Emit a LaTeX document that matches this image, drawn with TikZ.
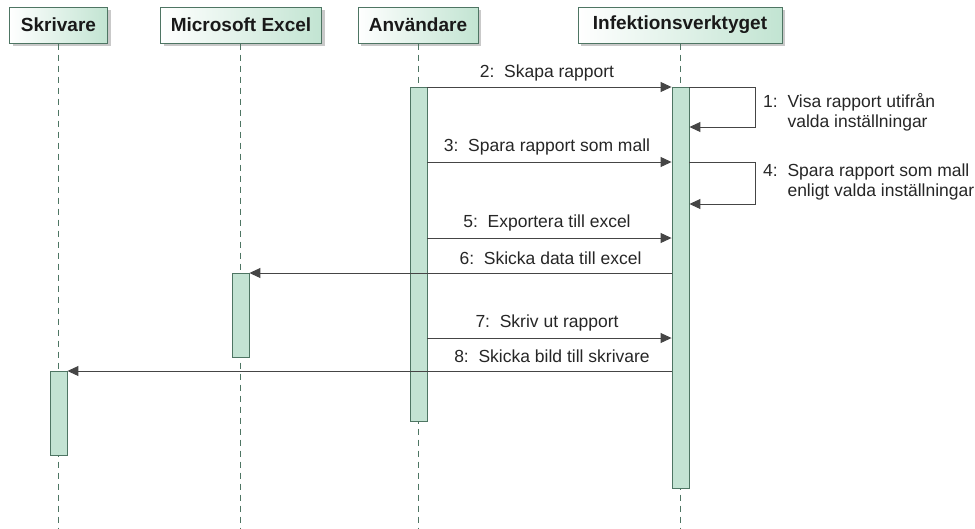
\documentclass[tikz,border=0pt]{standalone}
\usepackage{fontspec}
\setmainfont{Liberation Sans}
\usetikzlibrary{arrows.meta,shadows}
\definecolor{frame}{HTML}{4E7563}
\definecolor{barfill}{HTML}{C3E3D3}
\definecolor{hdrgreen}{HTML}{C2E4D2}
\definecolor{ink}{HTML}{454545}
\begin{document}
\begin{tikzpicture}[x=1pt,y=-1pt,
  head/.style={draw=frame, line width=1pt, left color=white, right color=hdrgreen,
    minimum height=36pt, inner sep=0pt, text=black!90,
    font=\bfseries\fontsize{19}{21}\selectfont,
    drop shadow={shadow xshift=3pt, shadow yshift=-3pt, fill=black!30, opacity=.7}},
  bar/.style={draw=frame, fill=barfill, line width=0.9pt, minimum width=17pt, inner sep=0pt},
  life/.style={draw=frame, line width=1pt, dash pattern=on 6pt off 5pt},
  msg/.style={draw=ink, line width=1pt, -{Triangle[length=11pt,width=10pt]}},
  lbl/.style={text=black!85, font=\fontsize{17.5}{20}\selectfont, inner sep=0pt}
]
\useasboundingbox (0,0) rectangle (975,528);

% participants
\node[head, minimum width=98pt]  (hS) at (58.5,25)  {Skrivare};
\node[head, minimum width=161pt] (hE) at (241,25)   {Microsoft Excel};
\node[head, minimum width=120pt] (hA) at (418,25)   {Användare};
\node[head, minimum width=204pt] (hI) at (680,25)   {Infektionsverktyget};

% lifelines
\coordinate (eS) at (58.5,528);
\coordinate (eE) at (240.5,528);
\coordinate (eA) at (418.5,528);
\coordinate (eI) at (680.5,528);
\draw[life] (hS.south -| eS) -- (eS);
\draw[life] (hE.south -| eE) -- (eE);
\draw[life] (hA.south -| eA) -- (eA);
\draw[life] (hI.south -| eI) -- (eI);

% activation bars
\node[bar, minimum height=334pt] (bA) at (418.5,254)   {};
\node[bar, minimum height=401pt] (bI) at (680.5,287.5) {};
\node[bar, minimum height=84pt]  (bE) at (240.5,315)   {};
\node[bar, minimum height=84pt]  (bS) at (58.5,413)    {};

% message rows
\coordinate (m2) at (0,87);
\coordinate (m1) at (0,127);
\coordinate (m3) at (0,162);
\coordinate (m4) at (0,204);
\coordinate (m5) at (0,238);
\coordinate (m6) at (0,273);
\coordinate (m7) at (0,338);
\coordinate (m8) at (0,371);

% messages
\draw[msg] (bA.east |- m2) -- (bI.west |- m2);
\draw[msg] (bI.east |- m2) -- ++(66,0) |- (bI.east |- m1);
\draw[msg] (bA.east |- m3) -- (bI.west |- m3);
\draw[msg] (bI.east |- m3) -- ++(66,0) |- (bI.east |- m4);
\draw[msg] (bA.east |- m5) -- (bI.west |- m5);
\draw[msg] (bI.west |- m6) -- (bE.east |- m6);
\draw[msg] (bA.east |- m7) -- (bI.west |- m7);
\draw[msg] (bI.west |- m8) -- (bS.east |- m8);

% labels
\node[lbl] (l2) at (547,73)  {2:\ \ Skapa rapport};
\node[lbl] (l3) at (547,147) {3:\ \ Spara rapport som mall};
\node[lbl] (l5) at (547,223) {5:\ \ Exportera till excel};
\node[lbl] (l6) at (550.5,258) {6:\ \ Skicka data till excel};
\node[lbl] (l7) at (547,323) {7:\ \ Skriv ut rapport};
\node[lbl] (l8) at (552,356) {8:\ \ Skicka bild till skrivare};
\node[lbl, anchor=west, align=left] (l1) at (763,112)
  {1:\ \ Visa rapport utifrån\\\phantom{1:\ \ }valda inställningar};
\node[lbl, anchor=west, align=left] (l4) at (763,182)
  {4:\ \ Spara rapport som mall\\\phantom{4:\ \ }enligt valda inställningar};
\end{tikzpicture}
\end{document}
